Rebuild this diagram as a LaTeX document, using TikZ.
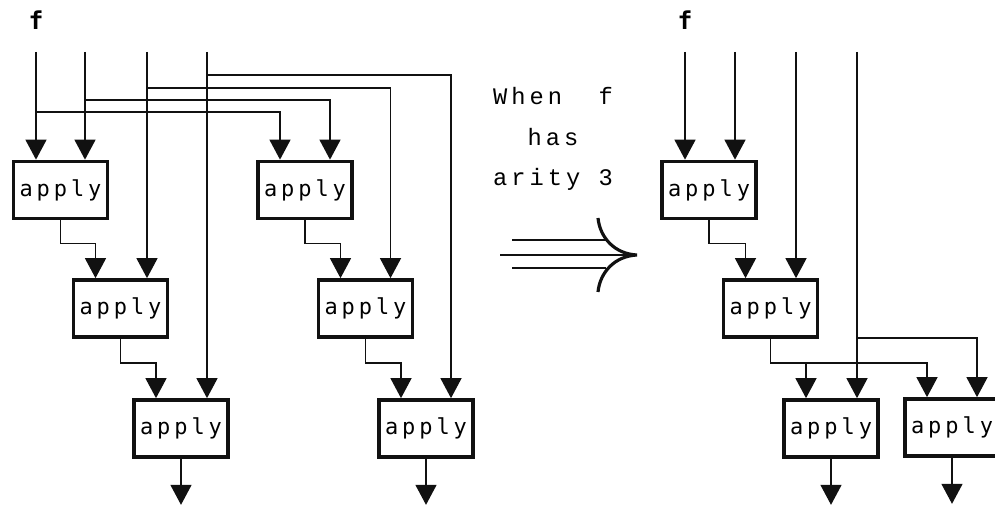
\documentclass[tikz,border=0pt]{standalone}
\usepackage{fontspec}
\usepackage{tikz}
\usetikzlibrary{arrows.meta,calc}
\newfontfamily\boxfont[LetterSpace=18]{DejaVu Sans Mono}
\newfontfamily\notefont[LetterSpace=17]{Liberation Mono}
\definecolor{APInk}{HTML}{111111}

\begin{document}
\begin{tikzpicture}[x=1cm,y=1cm,
  applybox/.style={draw=APInk,line width=2.1pt,minimum width=1.88cm,minimum height=1.14cm,inner sep=0pt,font=\boxfont\fontsize{12.5}{14}\selectfont},
  feed/.style={draw=APInk,line width=0.8pt,-{Triangle[width=0.42cm,length=0.40cm]}},
  fname/.style={font=\boxfont\bfseries\fontsize{14}{16}\selectfont}]
\path[use as bounding box] (0,0) rectangle (19.90,10.16);
\node[fname] (fa) at (0.72,9.76) {f};
\coordinate (t1) at (0.72,9.12);
\coordinate (t2) at (1.70,9.12);
\coordinate (t3) at (2.94,9.12);
\coordinate (t4) at (4.14,9.12);
\node[applybox] (a1) at (1.21,6.36) {apply};
\node[applybox] (a2) at (2.41,3.99) {apply};
\node[applybox] (a3) at (3.62,1.59) {apply};
\node[applybox] (b1) at (6.10,6.36) {apply};
\node[applybox] (b2) at (7.31,3.99) {apply};
\node[applybox] (b3) at (8.52,1.59) {apply};
\draw[feed] (t1) -- (t1 |- a1.north);
\draw[feed] (t2) -- (t2 |- a1.north);
\draw[feed] (t3) -- (t3 |- a2.north);
\draw[feed] (t4) -- (t4 |- a3.north);
\draw[feed] ($(t4)+(0,-0.46)$) -| ($(b3.north)+(0.5,0)$);
\draw[feed] ($(t3)+(0,-0.72)$) -| ($(b2.north)+(0.5,0)$);
\draw[feed] ($(t2)+(0,-0.96)$) -| ($(b1.north)+(0.5,0)$);
\draw[feed] ($(t1)+(0,-1.20)$) -| ($(b1.north)+(-0.5,0)$);
\draw[feed] (a1.south) -- ++(0,-0.46) -| ($(a2.north)+(-0.5,0)$);
\draw[feed] (a2.south) -- ++(0,-0.48) -| ($(a3.north)+(-0.5,0)$);
\draw[feed] (b1.south) -- ++(0,-0.46) -| ($(b2.north)+(-0.5,0)$);
\draw[feed] (b2.south) -- ++(0,-0.48) -| ($(b3.north)+(-0.5,0)$);
\draw[feed] (a3.south) -- ++(0,-0.92);
\draw[feed] (b3.south) -- ++(0,-0.92);
\node[align=center,font=\notefont\fontsize{13.5}{23}\selectfont] (note) at (11.06,7.38) {When~~f\\has\\arity 3};
\draw[APInk,line width=1.6pt] (10.00,5.06) -- (12.74,5.06);
\draw[APInk,line width=1.6pt] (10.24,5.36) -- (12.12,5.36);
\draw[APInk,line width=1.6pt] (10.24,4.80) -- (12.12,4.80);
\draw[APInk,line width=1.8pt] (11.96,5.80) .. controls (12.00,5.40) and (12.30,5.08) .. (12.74,5.06) .. controls (12.30,5.04) and (12.00,4.72) .. (11.96,4.32);
\node[fname] (fb) at (13.70,9.76) {f};
\coordinate (u1) at (13.70,9.12);
\coordinate (u2) at (14.70,9.12);
\coordinate (u3) at (15.92,9.12);
\coordinate (u4) at (17.14,9.12);
\node[applybox] (r1) at (14.18,6.36) {apply};
\node[applybox] (r2) at (15.41,3.99) {apply};
\node[applybox] (r3) at (16.62,1.59) {apply};
\node[applybox] (r4) at (19.04,1.61) {apply};
\draw[feed] (u1) -- (u1 |- r1.north);
\draw[feed] (u2) -- (u2 |- r1.north);
\draw[feed] (u3) -- (u3 |- r2.north);
\draw[feed] (u4) -- (u4 |- r3.north);
\draw[feed] (r1.south) -- ++(0,-0.46) -| ($(r2.north)+(-0.5,0)$);
\coordinate (r2j) at ($(r2.south)+(0,-0.48)$);
\coordinate (r3in) at ($(r3.north)+(-0.5,0)$);
\draw[feed] (r2.south) -- (r2j) -| ($(r4.north)+(-0.5,0)$);
\draw[feed] (r2j -| r3in) -- (r3in);
\draw[feed] ($(u4)+(0,-5.72)$) -| ($(r4.north)+(0.5,0)$);
\draw[feed] (r3.south) -- ++(0,-0.92);
\draw[feed] (r4.south) -- ++(0,-0.92);
\end{tikzpicture}
\end{document}
